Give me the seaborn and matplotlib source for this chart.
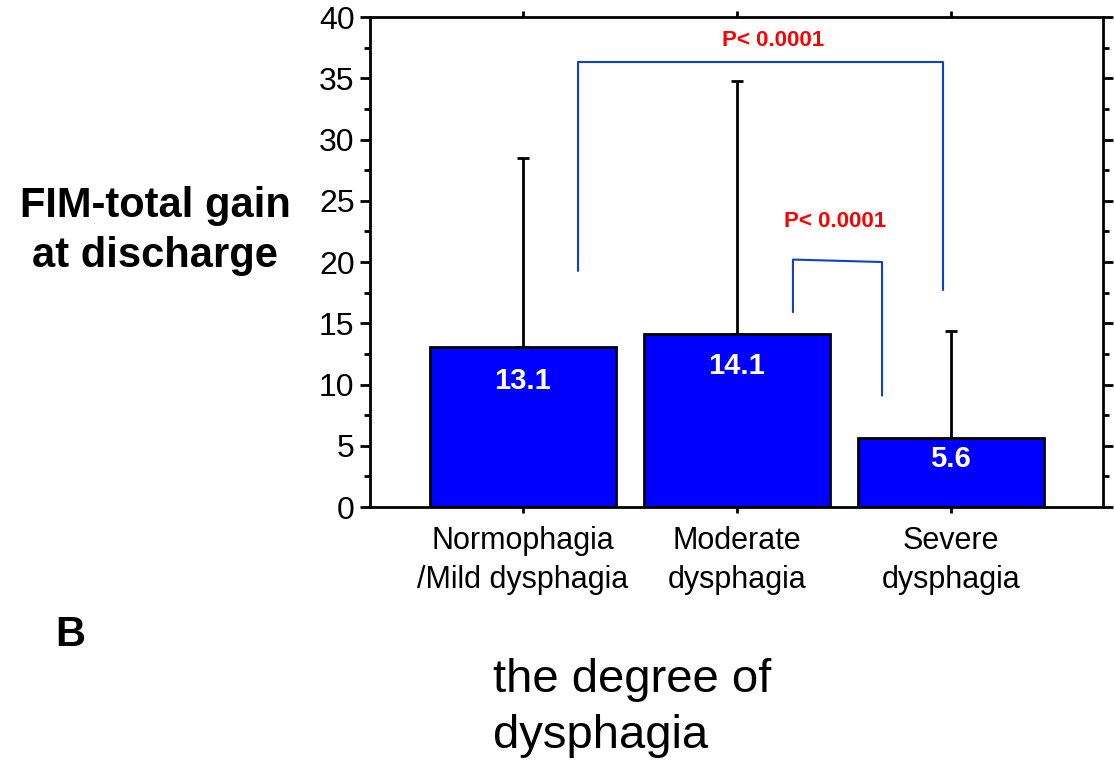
import numpy as np
import pandas as pd
import matplotlib
matplotlib.use('Agg')
import matplotlib.pyplot as plt
import seaborn as sns

# data
groups = ['Normophagia\n/Mild dysphagia', 'Moderate\ndysphagia', 'Severe\ndysphagia']
gain = [13.1, 14.1, 5.6]
sd = [15.4, 20.7, 8.8]
value_labels = ['13.1', '14.1', '5.6']
p_text = ['P< 0.0001', 'P< 0.0001']

sns.set_style('ticks')
plt.rcParams['font.family'] = ['Liberation Sans', 'DejaVu Sans']
plt.rcParams['text.color'] = 'black'
plt.rcParams['xtick.color'] = 'black'
plt.rcParams['ytick.color'] = 'black'

fig = plt.figure(figsize=(11.14, 7.63), dpi=100)
ax = fig.add_axes([0.332, 0.3355, 0.658, 0.6422])

df = pd.DataFrame({'group': groups, 'gain': gain})
sns.barplot(data=df, x='group', y='gain', color='#0000FF', saturation=1,
            edgecolor='black', linewidth=2, width=0.87, errorbar=None, ax=ax)
ax.errorbar(np.arange(3), gain, yerr=[np.zeros(3), sd], fmt='none',
            ecolor='black', elinewidth=2, capsize=4, capthick=2, zorder=1)

# value labels inside bars
offsets = [-34, -32, -21]
for i, (v, lab) in enumerate(zip(gain, value_labels)):
    ax.annotate(lab, (i, v), xytext=(0, offsets[i] * 0.72), textcoords='offset points',
                ha='center', va='center', color='white', fontsize=21, fontweight='bold')

# significance brackets
bc = '#1040D0'
ax.plot([0.257, 0.257, 1.963, 1.963], [19.3, 36.3, 36.3, 17.7], color=bc, lw=1.5, clip_on=False)
ax.plot([1.262, 1.262, 1.678, 1.678], [15.9, 20.2, 20.0, 9.1], color=bc, lw=1.5)
ax.text(1.168, 38.1, p_text[0], color='red', fontsize=16, fontweight='bold', ha='center', va='center')
ax.text(1.458, 23.3, p_text[1], color='red', fontsize=16, fontweight='bold', ha='center', va='center')

ax.set_xlim(-0.715, 2.71)
ax.set_ylim(0, 40)
ax.set_yticks(np.arange(0, 41, 5))
ax.set_yticks(np.arange(2.5, 40, 5), minor=True)
ax.set_xlabel('')
ax.set_ylabel('')
for s in ax.spines.values():
    s.set_linewidth(2)
    s.set_color('black')
ax.tick_params(axis='y', which='major', direction='out', length=7, width=2,
               left=True, right=True, labelright=False, labelsize=23, pad=4)
ax.tick_params(axis='y', which='minor', direction='out', length=4, width=2, left=True, right=True)
ax.tick_params(axis='x', direction='out', length=4, width=2, top=True, bottom=True,
               labelsize=22, pad=10)
for t in ax.get_yticklabels():
    t.set_family(['Liberation Sans Narrow', 'Liberation Sans'])
for t in ax.get_xticklabels():
    t.set_linespacing(1.35)

fig.text(155 / 1114, 1 - 231 / 763, 'FIM-total gain\nat discharge', fontsize=30,
         fontweight='bold', ha='center', va='center', linespacing=1.35)
fig.text(55 / 1114, 1 - 635 / 763, 'B', fontsize=30, fontweight='bold', ha='left', va='center')
fig.text(493 / 1114, 1 - 708 / 763, 'the degree of\ndysphagia', fontsize=34,
         ha='left', va='center', linespacing=1.35)

fig.savefig('out.png', dpi=100)
